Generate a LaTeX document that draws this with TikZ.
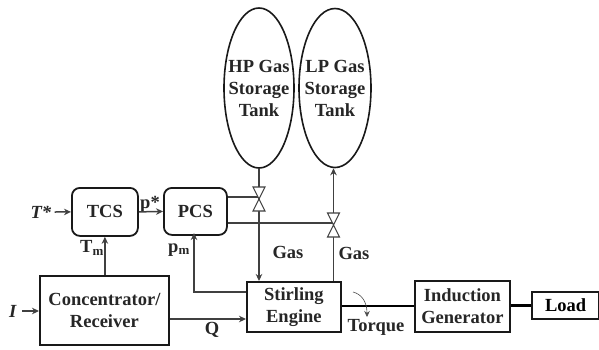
\documentclass[tikz,border=0pt]{standalone}
\usepackage{fontspec}
\setmainfont{Liberation Serif}
\usetikzlibrary{shapes.geometric,arrows.meta,calc}
\tikzset{
  x=1pt,y=-1pt,
  every node/.style={font=\fontsize{18.5}{22}\selectfont\bfseries,text=black!85,inner sep=0pt},
  sq/.style={draw=black!90,line width=1.8pt,align=center,anchor=north west},
  rbox/.style={sq,rounded corners=8pt},
  tank/.style={ellipse,draw=black!90,line width=1.6pt,inner sep=0pt},
  tanktext/.style={align=center,anchor=center},
  conn/.style={draw=black!75,line width=1.5pt},
  flow/.style={conn,-{Stealth[length=7pt,width=6.5pt]}},
  shaft/.style={draw=black,line width=2.7pt},
  valveshape/.style={draw=black!75,line width=1.1pt,fill=white},
  lbl/.style={anchor=center}
}
\newcommand{\mkvalve}[1]{\draw[valveshape] ($(#1)+(-6,-12)$) -- ($(#1)+(6,-12)$) -- ($(#1)+(-6,12)$) -- ($(#1)+(6,12)$) -- cycle;}
\begin{document}
\begin{tikzpicture}
\useasboundingbox (0,0) rectangle (599,349);
\node[rbox,minimum width=66pt,minimum height=48pt] (tcs) at (71,187) {TCS};
\node[rbox,minimum width=63pt,minimum height=47pt] (pcs) at (163,187) {PCS};
\node[sq,minimum width=129pt,minimum height=69pt] (conc) at (39,275) {Concentrator/\\Receiver};
\node[sq,minimum width=94pt,minimum height=50pt] (eng) at (246,281) {Stirling\\Engine};
\node[sq,minimum width=95pt,minimum height=51pt] (gen) at (414,280) {Induction\\Generator};
\node[sq,minimum width=67pt,minimum height=27pt,line width=2.2pt] (load) at (531,291) {\textcolor{black}{Load}};
\node[tank,minimum width=70pt,minimum height=160pt] (hp) at (259,88) {};
\node[tank,minimum width=72pt,minimum height=159pt] (lp) at (335,88) {};
\node[tanktext] (hpt) at (hp.center) {HP Gas\\Storage\\Tank};
\node[tanktext] (lpt) at (lp.center) {LP Gas\\Storage\\Tank};
\coordinate (hv) at (259,199);
\coordinate (lv) at (333.5,225);
\node[lbl] (tstar) at (41,212) {\textit{T*}};
\node[lbl] (iin) at (13,311) {\textit{I}};
\node[lbl] (pstar) at (150,204) {p*};
\node[lbl] (tm) at (92,248) {T\textsubscript{m}};
\node[lbl] (pm) at (179,250) {p\textsubscript{m}};
\node[lbl] (q) at (212,330) {Q};
\node[lbl] (g1) at (288,252) {Gas};
\node[lbl] (g2) at (354,253) {Gas};
\node[lbl] (tq) at (376,327) {Torque};
% connectors
\draw[flow] (tstar.east) ++(3,0) -- (tcs.west);
\draw[flow] (iin.east) ++(5,0) -- (iin.east -| conc.west);
\draw[flow] (tcs.east) -- (pcs.west);
\draw[flow] (conc.north -| tcs.south) -- (tcs.south);
\draw[flow] (eng.west |- 0,292) -- (194,292) -- (194,233);
\draw[flow] (conc.east |- 0,319) -- (eng.west |- 0,319);
\draw[conn] (hp.south) -- (hv);
\draw[flow] (hv) -- (hv |- eng.north);
\draw[flow] (lv) -- (lv |- lp.south);
\draw[conn] (eng.north -| lv) -- (lv);
\draw[conn] (pcs.east |- 0,197) -- (hv |- 0,197);
\draw[conn] (pcs.east |- 0,223) -- (lv |- 0,223);
\mkvalve{hv}
\mkvalve{lv}
\draw[shaft] (eng.east |- 0,306) -- (gen.west |- 0,306);
\draw[shaft] (gen.east |- load.west) -- (load.west);
\draw[draw=black!70,line width=.6pt,-{Stealth[length=6pt,width=5.5pt]}] (353,292) .. controls (361,294) and (367,301) .. (367,317);
\end{tikzpicture}
\end{document}
